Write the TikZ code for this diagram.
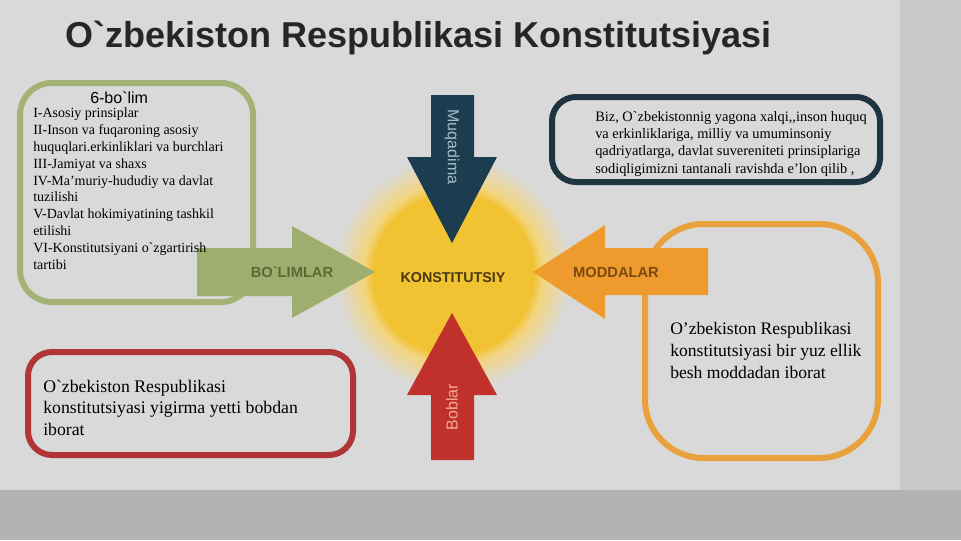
\documentclass[tikz,border=0pt]{standalone}
\usepackage{fontspec}
\setmainfont{Liberation Serif}[Ligatures=TeXOff]
\setsansfont{Liberation Sans}[Ligatures=TeXOff]
\definecolor{slide}{HTML}{D9D9D9}
\definecolor{outer}{HTML}{B3B3B3}
\definecolor{rightstrip}{HTML}{C9C9C9}
\definecolor{titlegray}{HTML}{262626}
\definecolor{leaf}{HTML}{9DAE6E}
\definecolor{leafline}{HTML}{A4B276}
\definecolor{leafdark}{HTML}{5B6A34}
\definecolor{navy}{HTML}{1C3D4F}
\definecolor{navyline}{HTML}{1F3441}
\definecolor{navylight}{HTML}{A3BCCB}
\definecolor{brick}{HTML}{C0312B}
\definecolor{brickline}{HTML}{B03537}
\definecolor{bricklight}{HTML}{F2A99B}
\definecolor{amber}{HTML}{EE9A2C}
\definecolor{amberline}{HTML}{E9A23B}
\definecolor{amberdark}{HTML}{7A4A12}
\definecolor{sun}{HTML}{F1C232}
\definecolor{sunhalo}{HTML}{F3D57F}
\definecolor{sundark}{HTML}{4A3A12}
\pgfdeclareradialshading{sunglow}{\pgfpoint{0bp}{0bp}}{color(0bp)=(sun); color(17bp)=(sun); color(19bp)=(sunhalo); color(25bp)=(slide); color(50bp)=(slide)}
\tikzset{
  frame/.style={rounded corners=#1, line width=4.5pt},
  tag/.style={inner sep=0, font=\sffamily\bfseries\fontsize{11}{12}\selectfont},
  side/.style={inner sep=0, font=\sffamily\fontsize{12}{13}\selectfont},
  body/.style={inner sep=0, align=left, anchor=base west}
}
\begin{document}
\begin{tikzpicture}[x=0.75pt,y=-0.75pt]
  \useasboundingbox (0,0) rectangle (961,540);
  % backdrop
  \fill[outer] (0,0) rectangle (961,540);
  \fill[rightstrip] (900,0) rectangle (961,490);
  \fill[slide] (0,0) rectangle (900,490);
  \node[anchor=base west, inner sep=0, text=titlegray,
    font=\sffamily\bfseries\fontsize{27}{32}\selectfont] (title) at (65,47)
    {O`zbekiston Respublikasi Konstitutsiyasi};
  % frames
  \draw[frame=24, leafline] (20,83) rectangle (253,302);
  \draw[frame=18, navyline] (552,97) rectangle (880,182);
  \draw[frame=44, amberline] (645,224) rectangle (878,458);
  \draw[frame=18, brickline] (28,352) rectangle (353,455);
  % centre
  \shade[shading=sunglow] (453,274) circle (118);
  \fill[leaf] (197,248) -- (292,248) -- (292,226) -- (375,272)
    -- (292,318) -- (292,296) -- (197,296) -- cycle;
  \fill[navy] (431,95) -- (474,95) -- (474,157) -- (497,157)
    -- (452,243) -- (407,157) -- (431,157) -- cycle;
  \fill[brick] (431,460) -- (431,395) -- (407,395) -- (452,313)
    -- (497,395) -- (474,395) -- (474,460) -- cycle;
  \fill[amber] (708,248) -- (605,248) -- (605,225) -- (533,272)
    -- (605,319) -- (605,295) -- (708,295) -- cycle;
  \node[tag, text=sundark, font=\sffamily\bfseries\fontsize{10.7}{12}\selectfont]
    (konst) at (453,278) {KONSTITUTSIY};
  \node[tag, text=leafdark] (bolimlar) at (292,272) {BO`LIMLAR};
  \node[tag, text=amberdark] (moddalar) at (616,272) {MODDALAR};
  \node[side, text=navylight, rotate=-90] (muqadima) at (452,147) {Muqadima};
  \node[side, text=bricklight, rotate=90] (boblar) at (452,407) {Boblar};
  % texts (base = last line)
  \node[anchor=base west, inner sep=0, font=\sffamily\fontsize{12}{13}\selectfont]
    (bolim) at (90,103) {6-bo`lim};
  \node[body, font=\fontsize{10.5}{12.6}\selectfont] (parts) at (33,269)
    {I-Asosiy prinsiplar\\
     II-Inson va fuqaroning asosiy\\
     huquqlari.erkinliklari va burchlari\\
     III-Jamiyat va shaxs\\
     IV-Ma’muriy-hududiy va davlat\\
     tuzilishi\\
     V-Davlat hokimiyatining tashkil\\
     etilishi\\
     VI-Konstitutsiyani o`zgartirish\\
     tartibi};
  \node[body, font=\fontsize{10.8}{12.8}\selectfont] (preamble) at (595,173)
    {Biz, O`zbekistonnig yagona xalqi,,inson huquq\\
     va erkinliklariga, milliy va umuminsoniy\\
     qadriyatlarga, davlat suvereniteti prinsiplariga\\
     sodiqligimizni tantanali ravishda e’lon qilib ,};
  \node[body, font=\fontsize{13.3}{16}\selectfont] (chapters) at (43,435)
    {O`zbekiston Respublikasi\\
     konstitutsiyasi yigirma yetti bobdan\\
     iborat};
  \node[body, font=\fontsize{13.2}{16.2}\selectfont] (articles) at (670,378)
    {O’zbekiston Respublikasi\\
     konstitutsiyasi bir yuz ellik\\
     besh moddadan iborat};
\end{tikzpicture}
\end{document}
